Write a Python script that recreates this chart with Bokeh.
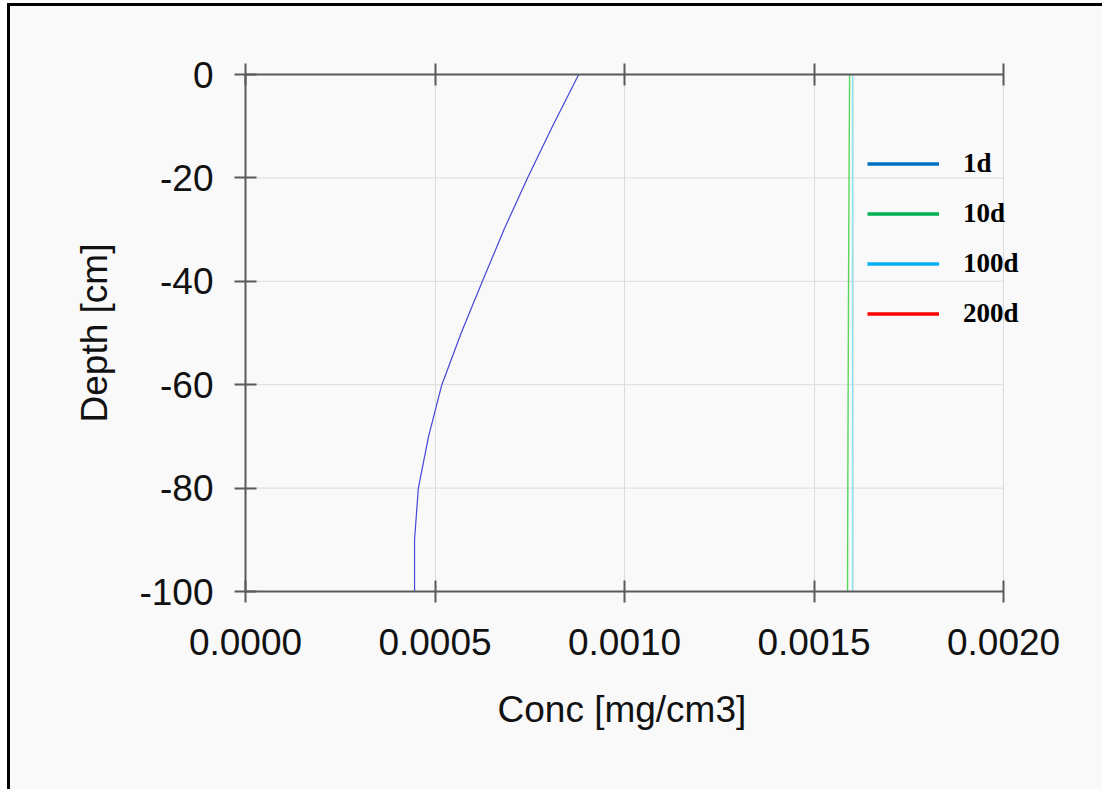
from bokeh.plotting import figure
from bokeh.models import (Range1d, LinearAxis, FixedTicker, PrintfTickFormatter,
                          CustomJSTickFormatter, Legend, LegendItem, Title)
from bokeh.embed import file_html
from bokeh.resources import INLINE

# ---- data ----
depth = [0, -10, -20, -30, -40, -50, -60, -70, -80, -90, -100]
conc_1d = [0.000879, 0.000810, 0.000744, 0.000682, 0.000625, 0.000569,
           0.000518, 0.000483, 0.000456, 0.000446, 0.000446]
conc_10d = [0.0015937, 0.0015930, 0.0015923, 0.0015916, 0.0015910, 0.0015905,
            0.0015900, 0.0015895, 0.0015890, 0.0015886, 0.0015884]
conc_100d = [0.0016016] * 11
conc_200d = [0.0016016] * 11

x_ticks = [0.0, 0.0005, 0.0010, 0.0015, 0.0020]
y_ticks = [-100, -80, -60, -40, -20, 0]
y_tick_labels = ["-100", "-80", "-60", "-40", "-20", "0"]
legend_labels = ["1d", "10d", "100d", "200d"]
legend_colors = ["#0070c0", "#00b050", "#00b0f0", "#ff0000"]

X_MIN, X_MAX = 0.0, 0.002
X_VIEW_MAX = 0.0021   # extra room to the right so the legend text is not clipped

BG = "#f9f9f9"
AX = "#5a5a5a"
GRID = "#dcdcdc"
FONT = "Liberation Sans"

p = figure(width=1095, height=786, output_backend="svg", toolbar_location=None,
           x_range=Range1d(X_MIN, X_VIEW_MAX), y_range=Range1d(-100, 0),
           min_border_left=235, min_border_right=64, min_border_top=68,
           min_border_bottom=201)
p.styles = {"margin-left": "7px", "margin-top": "3px",
            "border-left": "3px solid black", "border-top": "3px solid black"}
p.background_fill_color = BG
p.border_fill_color = BG
p.outline_line_color = None

# grid
p.xgrid.ticker = FixedTicker(ticks=x_ticks)
p.xgrid.grid_line_color = GRID
p.xgrid.grid_line_width = 1
p.ygrid.visible = False
p.segment(x0=[X_MIN] * len(y_ticks), x1=[X_MAX] * len(y_ticks),
          y0=y_ticks, y1=y_ticks, line_color=GRID, line_width=1, level="underlay")

def style_axis(ax):
    ax.axis_line_color = AX
    ax.axis_line_width = 2
    ax.major_tick_line_color = AX
    ax.major_tick_line_width = 2
    ax.major_tick_in = 11
    ax.major_tick_out = 11
    ax.minor_tick_line_color = None
    ax.major_label_text_font = FONT
    ax.major_label_text_font_size = "37px"
    ax.major_label_text_color = "#111111"
    ax.axis_label_text_font = FONT
    ax.axis_label_text_font_size = "37px"
    ax.axis_label_text_font_style = "normal"
    ax.axis_label_text_color = "#111111"

xa = p.xaxis[0]
xa.ticker = FixedTicker(ticks=x_ticks)
xa.formatter = PrintfTickFormatter(format="%.4f")
xa.bounds = (X_MIN, X_MAX)
style_axis(xa)
xa.major_label_standoff = 26

# x axis title, centred under the 0 .. 0.002 span (not the widened frame)
xtitle = Title(text="Conc [mg/cm3]", align="left", offset=252,
               text_font=FONT, text_font_size="37px", text_font_style="normal",
               text_color="#111111", standoff=58)
p.add_layout(xtitle, "below")

ya = p.yaxis[0]
ya.ticker = FixedTicker(ticks=y_ticks)
ya.major_label_overrides = dict(zip(y_ticks, y_tick_labels))
ya.axis_label = "Depth [cm]"
style_axis(ya)
ya.major_label_standoff = 21
ya.axis_label_standoff = 21

top = LinearAxis(ticker=FixedTicker(ticks=x_ticks), bounds=(X_MIN, X_MAX),
                 formatter=CustomJSTickFormatter(code="return ''"))
style_axis(top)
top.major_label_standoff = 0
p.add_layout(top, "above")

# data lines
p.line(conc_200d, depth, line_color="#ff6666", line_width=1.2)
p.line(conc_100d, depth, line_color="#88e8f0", line_width=1.6)
p.line(conc_10d, depth, line_color="#5ad65a", line_width=1.4)
p.line(conc_1d, depth, line_color="#4646d6", line_width=1.2)

# legend (dummy renderers carry the legend styling, no visible data)
nan = float("nan")
items = []
for lab, col in zip(legend_labels, legend_colors):
    r = p.line([nan], [nan], line_color=col, line_width=3.5)
    items.append(LegendItem(label=lab, renderers=[r]))
leg = Legend(items=items, location=(622, 262))
leg.background_fill_alpha = 0
leg.border_line_color = None
leg.padding = 0
leg.margin = 0
leg.spacing = 19
leg.glyph_width = 72
leg.glyph_height = 29
leg.label_height = 29
leg.label_standoff = 24
leg.label_text_font = "Liberation Serif"
leg.label_text_font_style = "bold"
leg.label_text_font_size = "27px"
leg.label_text_color = "#000000"
p.add_layout(leg, "center")

open("out.html", "w").write(file_html(p, INLINE))
